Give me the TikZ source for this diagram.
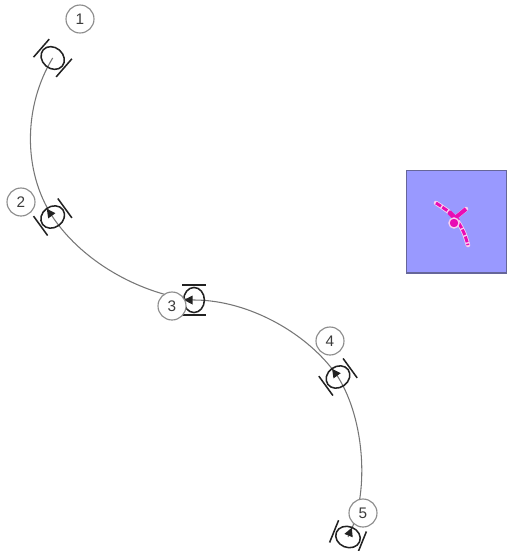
\documentclass[tikz,border=0pt]{standalone}
\usepackage{fontspec}
\setmainfont{Liberation Sans}
\definecolor{trackgray}{HTML}{767676}
\definecolor{markblack}{HTML}{222222}
\definecolor{ringgray}{HTML}{8C8C8C}
\definecolor{numgray}{HTML}{3C3C3C}
\definecolor{insetfill}{HTML}{9999FF}
\definecolor{insetedge}{HTML}{666699}
\definecolor{pinkmark}{HTML}{E80CB4}
\tikzset{
  track/.style={draw=trackgray,line width=0.8pt},
  markline/.style={draw=markblack,line width=1.15pt},
  numring/.style={circle,draw=ringgray,fill=white,line width=0.85pt,minimum size=21pt,inner sep=0pt,text=numgray,font=\fontsize{11.5}{13}\selectfont},
  inset/.style={draw=insetedge,fill=insetfill,line width=1.1pt},
  halo/.style={draw=white!80!pinkmark,line width=3.4pt,line cap=round},
  pinkline/.style={draw=pinkmark,line width=2.2pt},
  pics/trackmarker/.style={code={
    \draw[markline] (0,0) ellipse [x radius=7.8pt,y radius=9.4pt];
    \draw[markline] (-12,15) -- (12,15);
    \draw[markline] (-12,-15) -- (12,-15);
  }},
  pics/markertip/.style={code={
    \fill[markblack] (-10,0) -- (-1.5,4.5) -- (-1.5,-4.5) -- cycle;
  }}
}
\begin{document}
\begin{tikzpicture}[x=0.75pt,y=-0.75pt]
\useasboundingbox (0,0) rectangle (507,551);
\coordinate (m1) at (52.7,58);
\coordinate (m2) at (52.7,217);
\coordinate (m3) at (194,300);
\coordinate (m4) at (338,377);
\coordinate (m5) at (348,537);
\draw[track] (m1) .. controls (24,105) and (22,170) .. (m2);
\draw[track] (m2) .. controls (85,265) and (145,295) .. (m3);
\draw[track] (m3) .. controls (250,300) and (310,335) .. (m4);
\draw[track] (m4) .. controls (365,420) and (370,495) .. (m5);
\pic[rotate=49] at (m1) {trackmarker};
\pic[rotate=-54] at (m2) {trackmarker};
\pic[rotate=-54] at (m2) {markertip};
\pic at (m3) {trackmarker};
\pic at (m3) {markertip};
\pic[rotate=-54] at (m4) {trackmarker};
\pic[rotate=-54] at (m4) {markertip};
\pic[rotate=-112] at (m5) {trackmarker};
\pic[rotate=-112] at (m5) {markertip};
\node[numring] (n1) at (80,19) {1};
\node[numring] (n2) at (21,202) {2};
\node[numring] (n3) at (172,306) {3};
\node[numring] (n4) at (330,341) {4};
\node[numring] (n5) at (363,513) {5};
\draw[inset] (406.5,170.5) rectangle (506.5,273);
\coordinate (p1) at (436,203);
\coordinate (p2) at (449,212);
\coordinate (p3) at (458,222);
\coordinate (p4) at (464,233);
\coordinate (p5) at (468,245);
\coordinate (b1) at (455,218);
\coordinate (b2) at (466,209);
\draw[halo] plot[smooth] coordinates {(p1) (p2) (p3) (p4) (p5)};
\draw[halo] (b1) -- (b2);
\draw[pinkline,dash pattern=on 4.5pt off 1.2pt] plot[smooth] coordinates {(p1) (p2) (p3) (p4) (p5)};
\draw[pinkline,line width=3pt] (b1) -- (b2);
\draw[pinkline,line width=3.6pt] (449,212) -- (458,221);
\fill[pinkmark,draw=white!80!pinkmark,line width=1pt] (454,223) circle [radius=3.8pt];
\end{tikzpicture}
\end{document}
